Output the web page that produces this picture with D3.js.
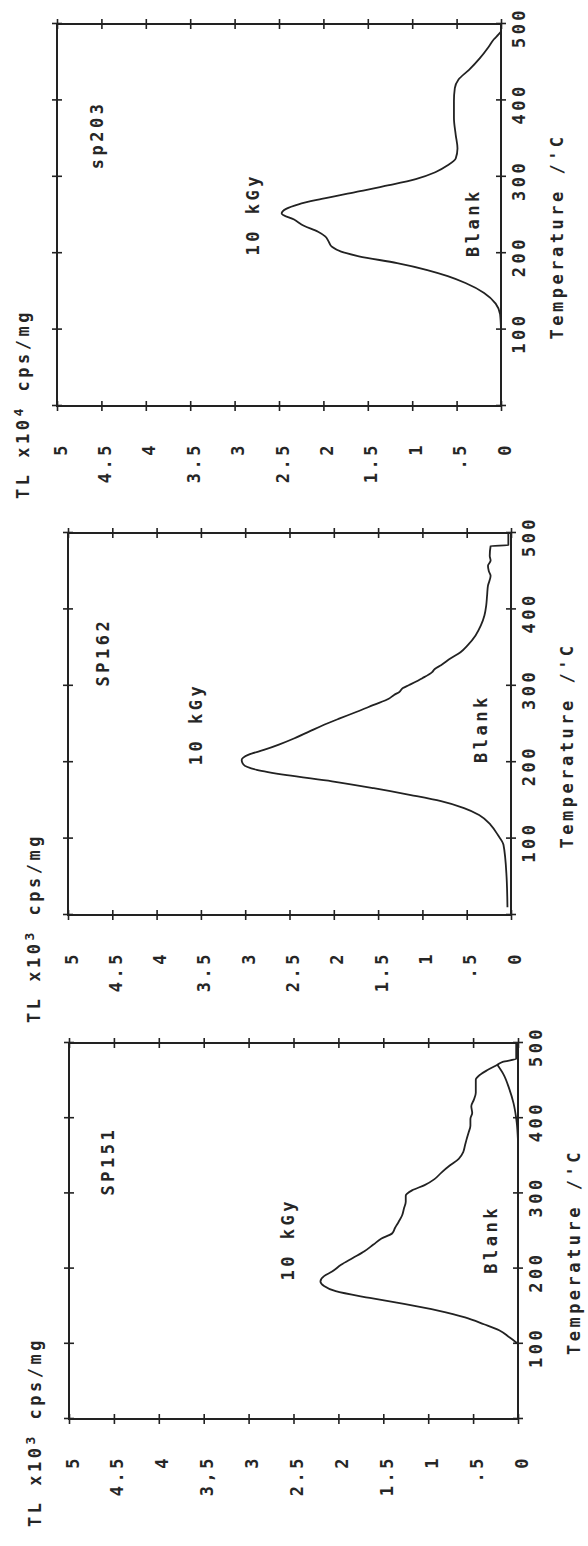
<!DOCTYPE html>
<html>
<head>
<meta charset="utf-8">
<script src="https://cdn.jsdelivr.net/npm/d3@7"></script>
<style>
body { margin: 0; background: #fff; }
svg text { font-family: "DejaVu Sans Mono", monospace; fill: #262626; font-weight: bold; }
</style>
</head>
<body>
<div id="vis-container"></div>
<script>
// ---- data: [temperature degC, TL] ----
const tempTicks = [0, 100, 200, 300, 400, 500];
const tempTickLabels = ["", "100", "200", "300", "400", "500"];
const tlTicks = [0, 0.5, 1, 1.5, 2, 2.5, 3, 3.5, 4, 4.5, 5];
const tlTickLabels = ["0", ".5", "1", "1.5", "2", "2.5", "3", "3.5", "4", "4.5", "5"];
const tlTickLabelsSP151 = ["0", ".5", "1", "1.5", "2", "2.5", "3", "3,5", "4", "4.5", "5"];

const sampleNames = ["sp203", "SP162", "SP151"];
const exponents = ["4", "3", "3"];
const doseText = "10 kGy";
const blankText = "Blank";

const sp203Curve = [[100,0],[120,0.01],[134,0.06],[148,0.19],[161,0.40],[170,0.60],[178,0.83],[187,1.17],[196,1.60],[202,1.80],[208,1.90],[215,1.94],[222,1.98],[228,2.06],[236,2.22],[244,2.33],[252,2.47],[258,2.42],[264,2.28],[271,2.02],[280,1.64],[289,1.26],[297,0.96],[306,0.74],[315,0.60],[324,0.51],[337,0.49],[355,0.51],[377,0.53],[399,0.53],[416,0.52],[427,0.48],[440,0.36],[455,0.24],[470,0.14],[480,0.08],[486,0.03],[490,0]];

const sp162Curve = [[10,0.04],[50,0.05],[92,0.085],[105,0.15],[118,0.23],[131,0.36],[140,0.53],[149,0.79],[157,1.13],[166,1.55],[175,2.02],[183,2.53],[190,2.87],[197,3.02],[203,3.04],[210,2.96],[216,2.79],[223,2.62],[231,2.45],[240,2.28],[249,2.11],[257,1.94],[266,1.74],[275,1.55],[283,1.38],[288,1.32],[292,1.26],[297,1.22],[301,1.15],[310,1.0],[318,0.89],[322,0.86],[327,0.79],[336,0.68],[344,0.57],[353,0.49],[366,0.40],[379,0.34],[392,0.30],[405,0.28],[418,0.27],[431,0.26],[444,0.23],[450,0.25],[457,0.26],[464,0.23],[470,0.24],[483,0.23],[484,0.03],[500,0.03]];

const sp151Curve = [[100,0],[109,0.1],[118,0.21],[126,0.38],[135,0.59],[144,0.89],[153,1.27],[161,1.65],[170,2.03],[177,2.16],[183,2.20],[190,2.16],[196,2.07],[205,1.97],[214,1.84],[223,1.71],[232,1.61],[240,1.52],[247,1.40],[254,1.37],[262,1.33],[271,1.29],[280,1.27],[289,1.25],[297,1.25],[304,1.18],[311,1.04],[319,0.93],[328,0.85],[337,0.76],[346,0.66],[355,0.61],[364,0.59],[373,0.57],[381,0.55],[390,0.53],[399,0.53],[407,0.51],[416,0.52],[425,0.49],[434,0.47],[443,0.47],[451,0.47],[458,0.42],[464,0.34],[471,0.23],[475,0.17],[479,0.02],[500,0.02]];

const sp151Blank = [[370,0],[395,0.015],[420,0.05],[440,0.1],[458,0.16],[471,0.23]];

// where each label sits, in data units [temperature, TL]
const sampleLabelAt = [[355, 4.55], [344, 4.6], [343, 4.57]];
const doseLabelAt = [[251, 2.79], [250, 3.55], [239, 2.56]];
const blankLabelAt = [[240, 0.31], [244, 0.34], [239, 0.30]];

// page geometry of the three rotated panels (pixel positions of the axes)
let panels = [
    {x0: 501, x5: 57, yT0: 406, yT500: 24, titleStart: -93, curves: [sp203Curve], labels: tlTickLabels},
    {x0: 511, x5: 68, yT0: 915, yT500: 533, titleStart: -108, curves: [sp162Curve], labels: tlTickLabels},
    {x0: 518, x5: 69, yT0: 1419, yT500: 1043, titleStart: -108, curves: [sp151Curve, sp151Blank], labels: tlTickLabelsSP151}
];

let width = 588;
let height = 1546;
let ink = "#222";

let svg = d3.select("#vis-container").append("svg").attr("width", width).attr("height", height);
svg.append("rect").attr("width", width).attr("height", height).attr("fill", "#fff");

panels.forEach((p, i) => {
    // local frame: x = temperature to the right, y = TL upwards; the group is turned so text reads bottom-to-top
    let g = svg.append("g").attr("transform", "translate(0," + p.yT0 + ") rotate(-90)");
    let w = p.yT0 - p.yT500;

    let x = d3.scaleLinear().domain([0, 500]).range([0, w]);
    let y = d3.scaleLinear().domain([0, 5]).range([p.x0, p.x5]);

    // frame
    g.append("rect").attr("x", 0).attr("y", p.x5).attr("width", w).attr("height", p.x0 - p.x5)
        .attr("fill", "none").attr("stroke", ink).attr("stroke-width", 2);

    // TL axis (crossing ticks + labels)
    let left = g.append("g").attr("transform", "translate(5,0)")
        .call(d3.axisLeft(y).tickValues(tlTicks).tickSize(10).tickPadding(31)
            .tickFormat((d, k) => p.labels[k]));
    left.select(".domain").remove();
    left.selectAll("line").attr("stroke", ink).attr("stroke-width", 1.6);
    left.selectAll("text").attr("dy", "0.53em").attr("font-size", 17).attr("letter-spacing", 3.5)
        .attr("font-family", "DejaVu Sans Mono").attr("fill", ink);

    let right = g.append("g").attr("transform", "translate(" + (w + 5) + ",0)")
        .call(d3.axisLeft(y).tickValues(tlTicks).tickSize(10).tickFormat(""));
    right.select(".domain").remove();
    right.selectAll("line").attr("stroke", ink).attr("stroke-width", 1.6);

    // temperature axis
    let bottom = g.append("g").attr("transform", "translate(0," + (p.x0 - 5) + ")")
        .call(d3.axisBottom(x).tickValues(tempTicks).tickSize(10).tickPadding(7)
            .tickFormat((d, k) => tempTickLabels[k]));
    bottom.select(".domain").remove();
    bottom.selectAll("line").attr("stroke", ink).attr("stroke-width", 1.6);
    bottom.selectAll("text").attr("dx", "-4px").attr("font-size", 17).attr("letter-spacing", 3.5)
        .attr("font-family", "DejaVu Sans Mono").attr("fill", ink);

    let top = g.append("g").attr("transform", "translate(0," + (p.x5 - 5) + ")")
        .call(d3.axisBottom(x).tickValues(tempTicks).tickSize(10).tickFormat(""));
    top.select(".domain").remove();
    top.selectAll("line").attr("stroke", ink).attr("stroke-width", 1.6);

    // glow curves
    let line = d3.line().x(d => x(d[0])).y(d => y(d[1])).curve(d3.curveMonotoneX);
    p.curves.forEach(c => {
        g.append("path").attr("d", line(c)).attr("fill", "none")
            .attr("stroke", ink).attr("stroke-width", 1.8);
    });

    // texts
    let addText = (pos, txt) => g.append("text").attr("x", x(pos[0])).attr("y", y(pos[1]))
        .attr("text-anchor", "middle").attr("dominant-baseline", "central")
        .attr("font-size", 17).attr("letter-spacing", 3.5).text(txt);
    addText(sampleLabelAt[i], sampleNames[i]);
    addText(doseLabelAt[i], doseText);
    addText(blankLabelAt[i], blankText);

    g.append("text").attr("x", x(222)).attr("y", p.x0 + 62).attr("text-anchor", "middle")
        .attr("font-size", 17).attr("letter-spacing", 3.5).text("Temperature /'C");

    let title = g.append("text").attr("x", p.titleStart).attr("y", p.x5 - 28)
        .attr("font-size", 17).attr("letter-spacing", 3.5);
    title.append("tspan").text("TL x10");
    title.append("tspan").attr("dy", -6).attr("font-size", 13).text(exponents[i]);
    title.append("tspan").attr("dy", 6).text(" cps/mg");
});
</script>
</body>
</html>
